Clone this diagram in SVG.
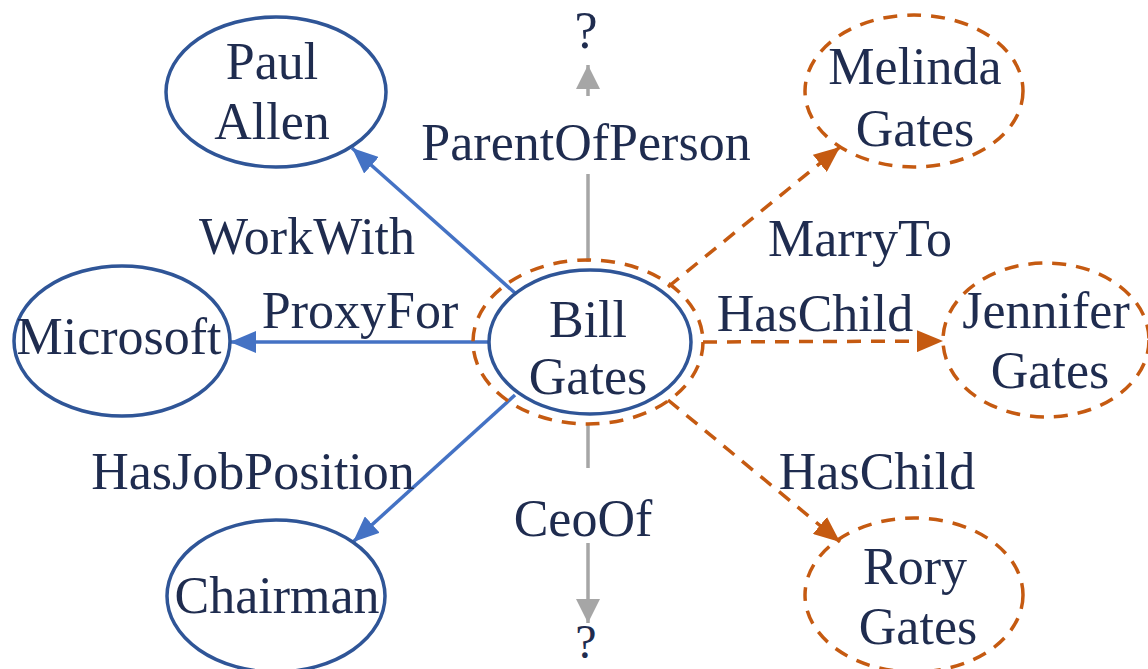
<svg xmlns="http://www.w3.org/2000/svg" width="1148" height="669" viewBox="0 0 1148 669">
<style>
text{font-family:"Liberation Serif","Times New Roman",serif;font-size:52px;fill:#1f2c4f;text-anchor:middle}
.n{fill:#fff;stroke:#2f5597;stroke-width:3.5}
.d{fill:none;stroke:#c55a11;stroke-width:3.5;stroke-dasharray:14 10}
.b{stroke:#4472c4;stroke-width:3.5;fill:none}
.o{stroke:#c55a11;stroke-width:3.5;fill:none;stroke-dasharray:14 10}
.g{stroke:#a6a6a6;stroke-width:3.5;fill:none}
</style>
<defs>
<marker id="ab" markerUnits="userSpaceOnUse" markerWidth="28" markerHeight="22" refX="26" refY="11" orient="auto"><path d="M0,0 L26,11 L0,22 Z" fill="#4472c4"/></marker>
<marker id="ao" markerUnits="userSpaceOnUse" markerWidth="28" markerHeight="22" refX="26" refY="11" orient="auto"><path d="M0,0 L26,11 L0,22 Z" fill="#c55a11"/></marker>
<marker id="ag" markerUnits="userSpaceOnUse" markerWidth="26" markerHeight="24" refX="24" refY="12" orient="auto"><path d="M0,0 L24,12 L0,24 Z" fill="#a6a6a6"/></marker>
</defs>
<g id="connectors">
<line class="b" x1="515" y1="293" x2="352" y2="148" marker-end="url(#ab)"/>
<line class="b" x1="489" y1="342" x2="230" y2="342" marker-end="url(#ab)"/>
<line class="b" x1="515" y1="395" x2="353" y2="542" marker-end="url(#ab)"/>
<line class="o" x1="668" y1="287" x2="840" y2="147" marker-end="url(#ao)"/>
<line class="o" x1="703" y1="342" x2="943" y2="341" marker-end="url(#ao)"/>
<line class="o" x1="668" y1="400" x2="840" y2="542" marker-end="url(#ao)"/>
<line class="g" x1="588" y1="262" x2="588" y2="174"/>
<line class="g" x1="588" y1="96" x2="588" y2="65" marker-end="url(#ag)"/>
<line class="g" x1="588" y1="424" x2="588" y2="468"/>
<line class="g" x1="588" y1="543" x2="588" y2="623" marker-end="url(#ag)"/>
<text x="307" y="254">WorkWith</text>
<text x="360" y="328">ProxyFor</text>
<text x="253" y="489">HasJobPosition</text>
<text x="860" y="256">MarryTo</text>
<text x="815" y="331">HasChild</text>
<text x="877" y="489">HasChild</text>
<text x="583" y="536">CeoOf</text>
<text x="586" y="160">ParentOfPerson</text>
<text x="586" y="48">?</text>
<text x="586" y="658" style="font-size:48px">?</text>
</g>
<g id="bill-gates">
<ellipse class="d" cx="588" cy="342" rx="115" ry="82"/>
<ellipse class="n" cx="590" cy="342" rx="101" ry="72"/>
<text x="588" y="337">Bill</text>
<text x="588" y="394">Gates</text>
</g>
<g id="paul-allen">
<ellipse class="n" cx="276" cy="92" rx="110" ry="75"/>
<text x="272" y="79">Paul</text>
<text x="272" y="139">Allen</text>
</g>
<g id="microsoft">
<ellipse class="n" cx="122" cy="341" rx="108" ry="75"/>
<text x="119" y="354">Microsoft</text>
</g>
<g id="chairman">
<ellipse class="n" cx="276" cy="596" rx="109" ry="76"/>
<text x="277" y="613">Chairman</text>
</g>
<g id="melinda-gates">
<ellipse class="d" cx="914" cy="91" rx="109" ry="76"/>
<text x="915" y="84">Melinda</text>
<text x="915" y="146">Gates</text>
</g>
<g id="jennifer-gates">
<ellipse class="d" cx="1046" cy="340" rx="103" ry="77"/>
<text x="1046" y="328">Jennifer</text>
<text x="1050" y="388">Gates</text>
</g>
<g id="rory-gates">
<ellipse class="d" cx="914" cy="595" rx="109" ry="77"/>
<text x="915" y="584">Rory</text>
<text x="918" y="644">Gates</text>
</g>
</svg>
